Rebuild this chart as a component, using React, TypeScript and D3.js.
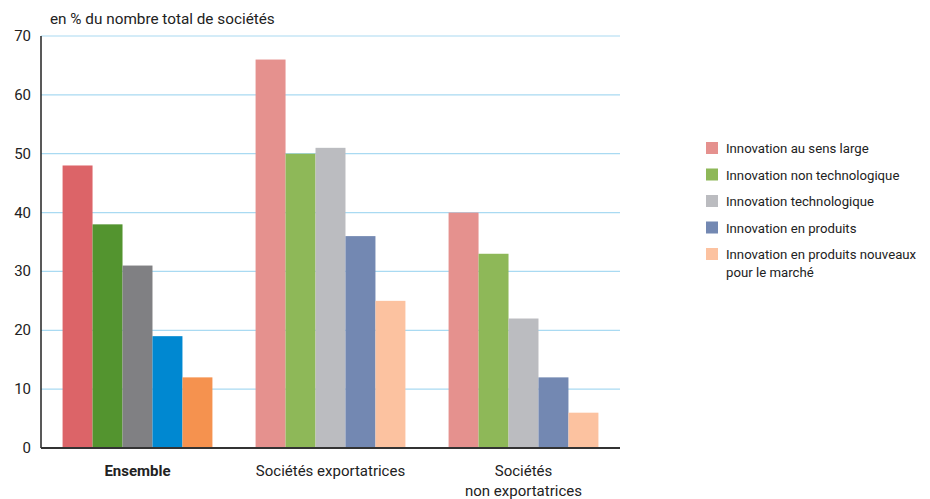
import React from 'react';
import * as d3 from 'd3';

const groups = ['Ensemble', 'Sociétés exportatrices', 'Sociétés non exportatrices'];
const groupLines = [['Ensemble'], ['Sociétés exportatrices'], ['Sociétés', 'non exportatrices']];
const series = [
  'Innovation au sens large',
  'Innovation non technologique',
  'Innovation technologique',
  'Innovation en produits',
  'Innovation en produits nouveaux pour le marché',
];
const legendLines = [
  ['Innovation au sens large'],
  ['Innovation non technologique'],
  ['Innovation technologique'],
  ['Innovation en produits'],
  ['Innovation en produits nouveaux', 'pour le marché'],
];
const ensemble = [48, 38, 31, 19, 12];
const exportatrices = [66, 50, 51, 36, 25];
const nonExportatrices = [40, 33, 22, 12, 6];
const yTicks = [0, 10, 20, 30, 40, 50, 60, 70];

// strong colours for "Ensemble", lighter ones for the two sub-groups
const darkColors = ['#dc6468', '#53942f', '#808083', '#0088d1', '#f5924f'];
const lightColors = ['#e5918e', '#8eb858', '#bbbcc0', '#7388b2', '#fcc2a0'];

const W = 930;
const H = 499;
const left = 41;
const right = 620;
const top = 36;
const bottom = 448;
const font = '"Liberation Sans Narrow", "Roboto", sans-serif';

export default function App() {
  const values = [ensemble, exportatrices, nonExportatrices];
  const y = d3.scaleLinear().domain([0, 70]).range([bottom, top]);
  const x0 = d3.scaleBand<string>().domain(groups).range([left, right]).padding(0);
  const x1 = d3
    .scaleBand<string>()
    .domain(series)
    .range([0, x0.bandwidth()])
    .paddingInner(0)
    .paddingOuter(0.72);

  return (
    <svg
      width={W}
      height={H}
      style={{ position: 'absolute', left: 0, top: 0, fontFamily: font }}
    >
      <rect width={W} height={H} fill="#fff" />
      <text x={50} y={24} fontSize={15.3} fill="#222">
        en % du nombre total de sociétés
      </text>
      {yTicks.map((t) => (
        <g key={t}>
          {t > 0 && (
            <line x1={left} x2={right} y1={y(t)} y2={y(t)} stroke="#a9daf2" strokeWidth={1.2} />
          )}
          <text x={31} y={y(t) + 5} textAnchor="end" fontSize={15} fill="#222">
            {t}
          </text>
        </g>
      ))}
      {groups.map((g, gi) =>
        series.map((s, si) => {
          const v = values[gi][si];
          return (
            <rect
              key={g + s}
              x={(x0(g) ?? 0) + (x1(s) ?? 0)}
              y={y(v)}
              width={x1.bandwidth()}
              height={y(0) - y(v)}
              fill={gi === 0 ? darkColors[si] : lightColors[si]}
            />
          );
        })
      )}
      <line x1={left} x2={left} y1={top} y2={bottom} stroke="#222" strokeWidth={1.5} />
      <line x1={left} x2={right} y1={bottom} y2={bottom} stroke="#333" strokeWidth={2} />
      {groups.map((g, gi) => (
        <text
          key={g}
          x={(x0(g) ?? 0) + x0.bandwidth() / 2}
          y={476}
          textAnchor="middle"
          fontSize={15}
          fontWeight={gi === 0 ? 'bold' : 'normal'}
          fill="#222"
        >
          {groupLines[gi].map((l, li) => (
            <tspan key={l} x={(x0(g) ?? 0) + x0.bandwidth() / 2} dy={li === 0 ? 0 : 20}>
              {l}
            </tspan>
          ))}
        </text>
      ))}
      {series.map((s, si) => {
        const ly = 148 + si * 26.5;
        return (
          <g key={s}>
            <rect x={706} y={ly - 6} width={12} height={12} fill={lightColors[si]} />
            <text x={726} y={ly + 5} fontSize={13.2} fill="#222">
              {legendLines[si].map((l, li) => (
                <tspan key={l} x={726} dy={li === 0 ? 0 : 18}>
                  {l}
                </tspan>
              ))}
            </text>
          </g>
        );
      })}
    </svg>
  );
}
